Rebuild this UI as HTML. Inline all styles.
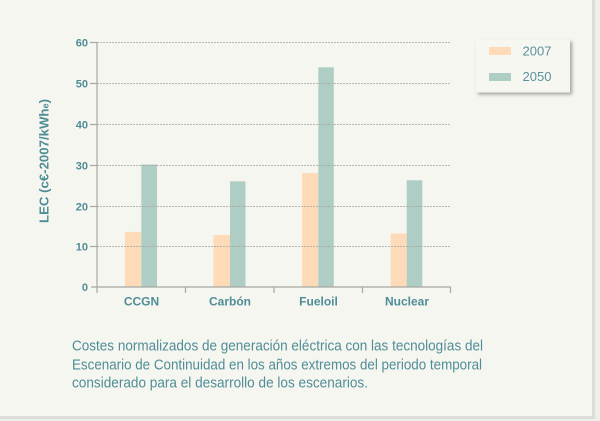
<!DOCTYPE html>
<html><head><meta charset="utf-8"><style>
html,body{margin:0;padding:0;background:#efefeb;}
svg{display:block;}
</style></head><body>
<svg width="600" height="421" viewBox="0 0 600 421" xmlns="http://www.w3.org/2000/svg">
<defs>
<filter id="sh" x="-20%" y="-20%" width="150%" height="160%">
<feGaussianBlur in="SourceAlpha" stdDeviation="1.8"/>
<feOffset dx="2" dy="2" result="b"/>
<feComponentTransfer><feFuncA type="linear" slope="0.35"/></feComponentTransfer>
<feMerge><feMergeNode/><feMergeNode in="SourceGraphic"/></feMerge>
</filter>
</defs>
<rect x="0" y="0" width="600" height="421" fill="#eeeeea"/>
<rect x="0" y="0" width="595" height="419" fill="#dcdcd8"/>
<rect x="0" y="0" width="592" height="416" fill="#f6f6f1"/>

<!-- bars -->
<g>
<rect x="125" y="231.9" width="16.3" height="55.1" fill="#fddbb9"/>
<rect x="141.3" y="164.5" width="15.7" height="122.5" fill="#aecdc4"/>
<rect x="213.5" y="235.1" width="16.5" height="51.9" fill="#fddbb9"/>
<rect x="230" y="181.3" width="15.5" height="105.7" fill="#aecdc4"/>
<rect x="302" y="173" width="16.3" height="114" fill="#fddbb9"/>
<rect x="318.3" y="67.3" width="15.5" height="219.7" fill="#aecdc4"/>
<rect x="390.7" y="233.5" width="16" height="53.5" fill="#fddbb9"/>
<rect x="406.7" y="180.3" width="15.6" height="106.7" fill="#aecdc4"/>
</g>

<!-- grid -->
<g stroke="#a9a9a2" stroke-width="1" stroke-dasharray="2 1" opacity="0.8">
<line x1="97" y1="42.5" x2="451" y2="42.5"/>
<line x1="97" y1="83.5" x2="451" y2="83.5"/>
<line x1="97" y1="124.5" x2="451" y2="124.5"/>
<line x1="97" y1="165.5" x2="451" y2="165.5"/>
<line x1="97" y1="206.5" x2="451" y2="206.5"/>
<line x1="97" y1="246.5" x2="451" y2="246.5"/>
</g>

<!-- axes -->
<g stroke="#a8a8a2" stroke-width="1.2" fill="none">
<line x1="97" y1="42" x2="97" y2="293"/>
<line x1="91" y1="287" x2="451" y2="287"/>
<line x1="90" y1="42.5" x2="97" y2="42.5"/>
<line x1="90" y1="83.5" x2="97" y2="83.5"/>
<line x1="90" y1="124.5" x2="97" y2="124.5"/>
<line x1="90" y1="165.5" x2="97" y2="165.5"/>
<line x1="90" y1="206.5" x2="97" y2="206.5"/>
<line x1="90" y1="246.5" x2="97" y2="246.5"/>
<line x1="185.5" y1="287" x2="185.5" y2="293"/>
<line x1="274" y1="287" x2="274" y2="293"/>
<line x1="362.5" y1="287" x2="362.5" y2="293"/>
<line x1="450.5" y1="287" x2="450.5" y2="293"/>
</g>

<!-- y tick labels -->
<g font-family="Liberation Sans, sans-serif" font-weight="bold" font-size="11" fill="#4f8d96" text-anchor="end">
<text x="88" y="46.5">60</text>
<text x="88" y="87.5">50</text>
<text x="88" y="128.5">40</text>
<text x="88" y="169.5">30</text>
<text x="88" y="210.5">20</text>
<text x="88" y="250.5">10</text>
<text x="88" y="291">0</text>
</g>

<!-- x labels -->
<g font-family="Liberation Sans, sans-serif" font-weight="bold" font-size="12" fill="#4f8d96" text-anchor="middle">
<text x="141.5" y="305.5">CCGN</text>
<text x="230" y="305.5">Carbón</text>
<text x="318.5" y="305.5">Fueloil</text>
<text x="407" y="305.5">Nuclear</text>
</g>

<!-- y title -->
<text transform="translate(48.5,161) rotate(-90)" font-family="Liberation Sans, sans-serif" font-weight="bold" font-size="13" fill="#4f8d96" text-anchor="middle" textLength="124" lengthAdjust="spacingAndGlyphs">LEC (c€-2007/kWh<tspan font-size="9">e</tspan>)</text>

<!-- legend -->
<rect x="476" y="39.5" width="94" height="53" fill="#f7f7f2" filter="url(#sh)"/>
<rect x="489" y="47" width="22" height="8" fill="#fddbb9"/>
<rect x="489" y="73" width="22" height="8" fill="#aecdc4"/>
<g font-family="Liberation Sans, sans-serif" font-size="13" fill="#5a929a">
<text x="522.5" y="55.5">2007</text>
<text x="522.5" y="81">2050</text>
</g>

<!-- caption -->
<g font-family="Liberation Sans Narrow, Liberation Sans, sans-serif" font-size="14.5" fill="#4f8d96">
<text x="72" y="350.7" textLength="411" lengthAdjust="spacingAndGlyphs">Costes normalizados de generación eléctrica con las tecnologías del</text>
<text x="72" y="369.3" textLength="410" lengthAdjust="spacingAndGlyphs">Escenario de Continuidad en los años extremos del periodo temporal</text>
<text x="72" y="387.5" textLength="296" lengthAdjust="spacingAndGlyphs">considerado para el desarrollo de los escenarios.</text>
</g>
</svg>
</body></html>
